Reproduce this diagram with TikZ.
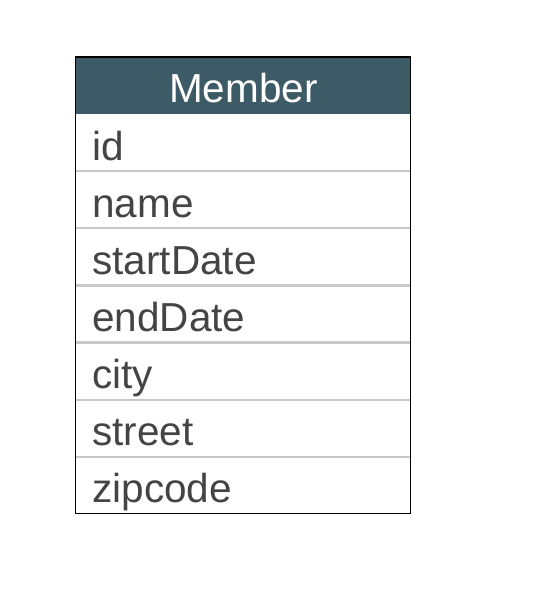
\documentclass[tikz,border=0pt]{standalone}
\usepackage{fontspec}
\setmainfont{Liberation Sans}
\usepackage{tikz}
\usetikzlibrary{positioning}

\definecolor{headfill}{HTML}{3D5A67}
\definecolor{fieldtext}{HTML}{444444}
\definecolor{sepgray}{HTML}{C8C8C8}

\begin{document}
\begin{tikzpicture}[x=1pt,y=-1pt,node distance=0pt]
	  \tikzstyle{every node}=[inner ysep=0pt,outer sep=0pt,minimum width=335pt,
	                          minimum height=57.1pt,text height=46pt,text depth=11.1pt,
	                          font=\fontsize{40.5}{42}\selectfont]
	  \tikzstyle{head}=[fill=headfill,text=white,align=center,inner xsep=0pt,text width=335pt]
	  \tikzstyle{field}=[text=fieldtext,align=left,text width=302pt,inner xsep=16.5pt]
	  \tikzstyle{sepline}=[draw=sepgray,line width=2.2pt]

	  \useasboundingbox (0,0) rectangle (532,596);

	  \node[head,anchor=north west] (member) at (75.8,57) {Member};
	  \node[field] (id)    [below=of member] {id};
	  \node[field] (name)  [below=of id]    {name};
	  \node[field] (start) [below=of name]  {startDate};
	  \node[field] (end)   [below=of start] {endDate};
	  \node[field] (city)  [below=of end]   {city};
	  \node[field] (street)[below=of city]  {street};
	  \node[field] (zip)   [below=of street]{zipcode};

	  \foreach \r in {id,name,start,end,city,street}
	    \draw[sepline] (member.west |- \r.south) -- (member.east |- \r.south);

	  \draw[black,line width=1.2pt] (member.north west) rectangle (member.east |- zip.south);
	\end{tikzpicture}
\end{document}
